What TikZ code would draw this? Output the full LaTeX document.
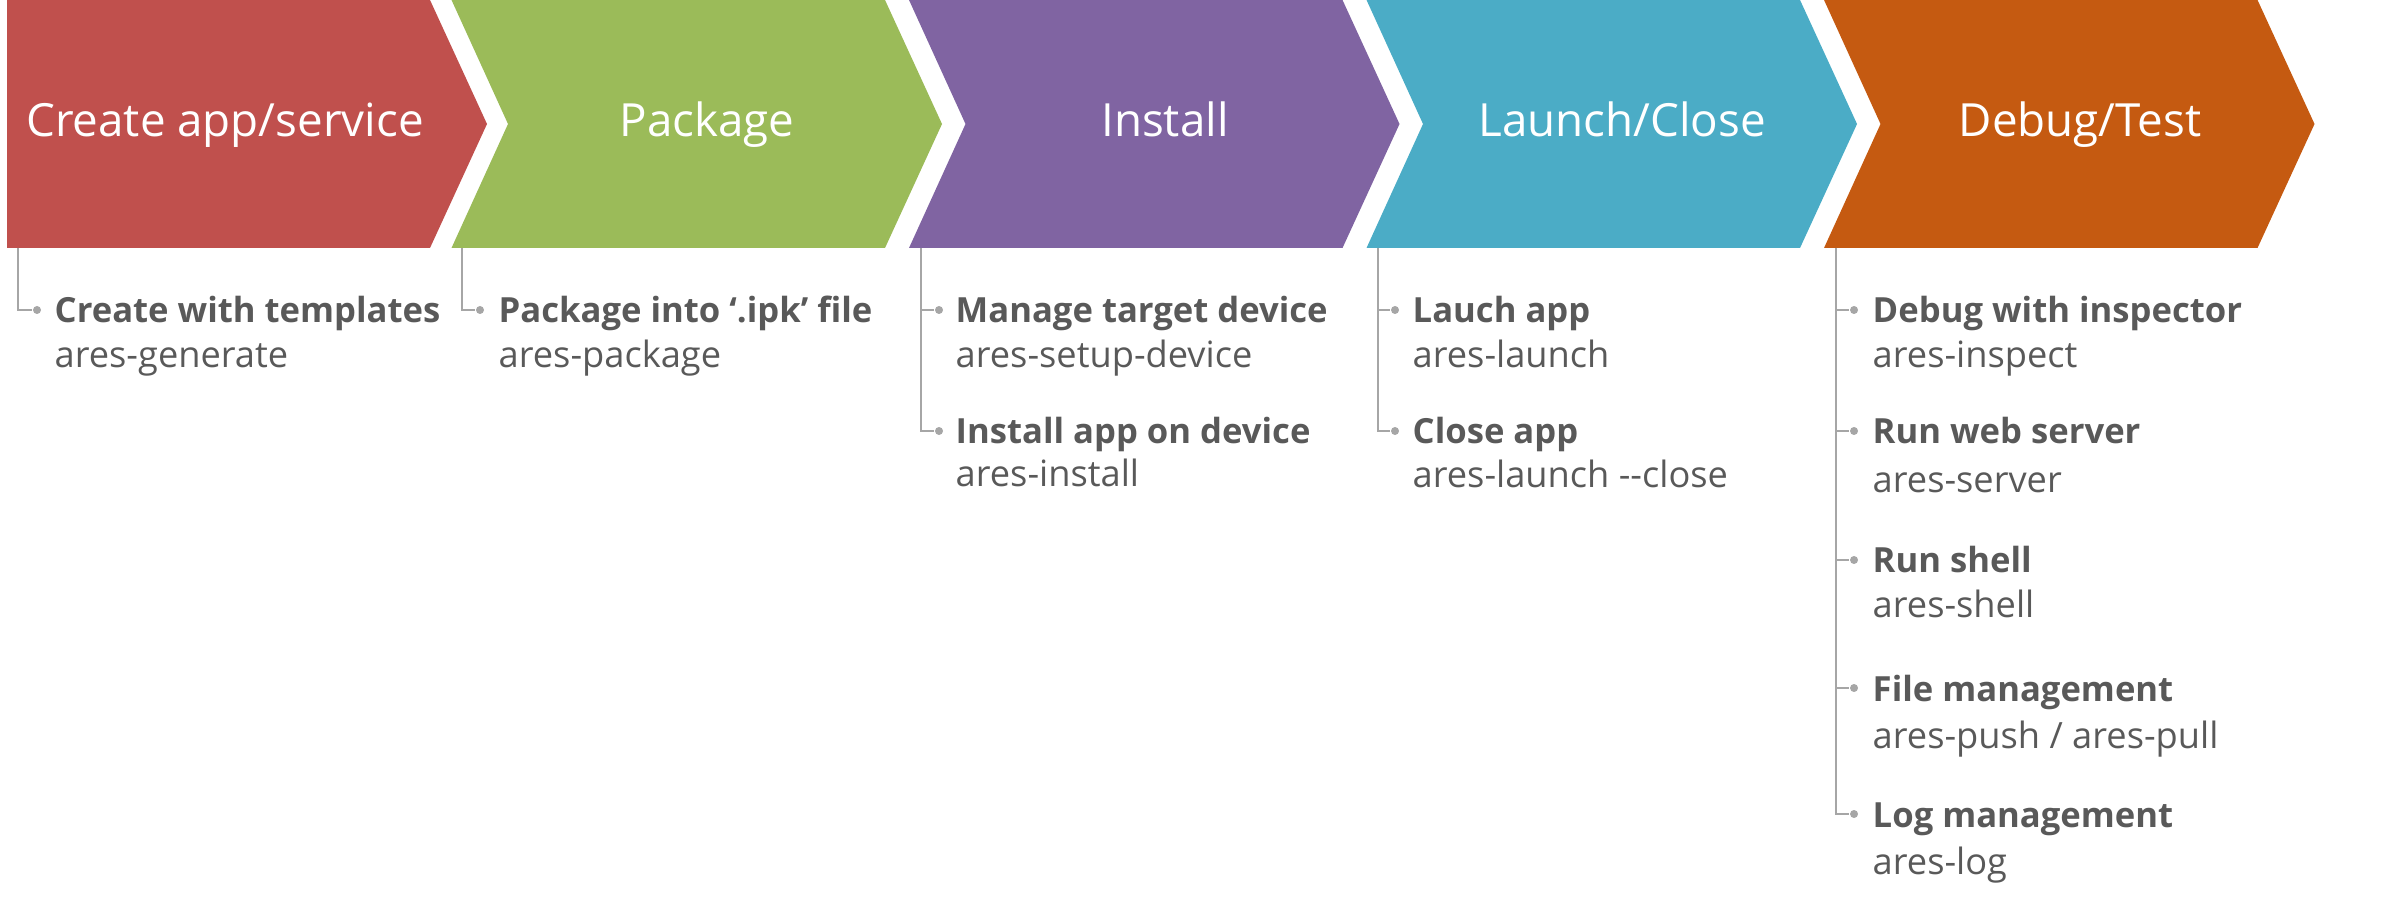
\documentclass[tikz,border=0pt]{standalone}
\usepackage{fontspec}
\setmainfont{Open Sans}
\usetikzlibrary{positioning, calc}

\definecolor{chevred}{HTML}{C0504D}
\definecolor{chevgreen}{HTML}{9BBB59}
\definecolor{chevpurple}{HTML}{8064A2}
\definecolor{chevcyan}{HTML}{4BACC6}
\definecolor{chevorange}{HTML}{C55A11}
\definecolor{itemgray}{HTML}{595959}
\definecolor{treegray}{HTML}{A6A6A6}

\begin{document}
\begin{tikzpicture}[x=0.01cm, y=-0.01cm,
  title/.style={anchor=base, inner sep=0pt, text=white,
                font=\fontsize{13}{15}\selectfont},
  item/.style={anchor=base west, inner sep=0pt, text=itemgray,
               font=\fontsize{9.85}{12}\selectfont\bfseries},
  cmd/.style={anchor=base west, inner sep=0pt, text=itemgray,
              font=\fontsize{10.3}{12}\selectfont},
  bullet/.style={circle, fill=treegray, inner sep=0pt, minimum size=0.08cm},
  tree/.style={draw=treegray, line width=0.4pt}]
  \useasboundingbox (0,0) rectangle (2404,907);

  % chevrons
  \fill[chevred] (7,0) -- (430,0) -- (487,124) -- (430,248) -- (7,248) -- cycle;
  \foreach \i/\col in {0/chevgreen, 1/chevpurple, 2/chevcyan, 3/chevorange} {
    \pgfmathsetmacro{\L}{451.5 + \i*457.5}
    \fill[\col] (\L,0) -- ({\L+433.5},0) -- ({\L+490.5},124)
      -- ({\L+433.5},248) -- (\L,248) -- ({\L+56.5},124) -- cycle;
  }

  \node[title] (t1) at (225,137) {Create app/service};
  \node[title] (t2) at (707,137) {Package};
  \node[title] (t3) at (1165,137) {Install};
  \node[title] (t4) at (1622,137) {Launch/Close};
  \node[title] (t5) at (2080,137) {Debug/Test};

  % trunks below the chevrons
  \coordinate (a1) at (18,248);
  \coordinate (a2) at (462,248);
  \coordinate (a3) at (921,248);
  \coordinate (a4) at (1378,248);
  \coordinate (a5) at (1836,248);

  % create
  \node[bullet] (b11) at (37,310) {};
  \node[item] (i11) at (54,323) {Create with templates};
  \node[cmd] (c11) at (54,368) {ares-generate};

  % package
  \node[bullet] (b21) at (480,310) {};
  \node[item] (i21) at (498,323) {Package into ‘.ipk’ file};
  \node[cmd] (c21) at (498,368) {ares-package};

  % install
  \node[bullet] (b31) at (939,310) {};
  \node[item] (i31) at (955,323) {Manage target device};
  \node[cmd] (c31) at (955,368) {ares-setup-device};
  \node[bullet] (b32) at (939,431) {};
  \node[item] (i32) at (955,444) {Install app on device};
  \node[cmd] (c32) at (955,487) {ares-install};

  % launch/close
  \node[bullet] (b41) at (1395,310) {};
  \node[item] (i41) at (1412,323) {Lauch app};
  \node[cmd] (c41) at (1412,368) {ares-launch};
  \node[bullet] (b42) at (1395,431) {};
  \node[item] (i42) at (1412,444) {Close app};
  \node[cmd] (c42) at (1412,488) {ares-launch -{}-close};

  % debug/test
  \node[bullet] (b51) at (1854,310) {};
  \node[item] (i51) at (1872,323) {Debug with inspector};
  \node[cmd] (c51) at (1872,368) {ares-inspect};
  \node[bullet] (b52) at (1854,431) {};
  \node[item] (i52) at (1872,444) {Run web server};
  \node[cmd] (c52) at (1872,492) {ares-server};
  \node[bullet] (b53) at (1854,560) {};
  \node[item] (i53) at (1872,573) {Run shell};
  \node[cmd] (c53) at (1872,617) {ares-shell};
  \node[bullet] (b54) at (1854,688) {};
  \node[item] (i54) at (1872,701) {File management};
  \node[cmd] (c54) at (1872,748) {ares-push / ares-pull};
  \node[bullet] (b55) at (1854,814) {};
  \node[item] (i55) at (1872,827) {Log management};
  \node[cmd] (c55) at (1872,874) {ares-log};

  \draw[tree] (a1) |- (b11);
  \draw[tree] (a2) |- (b21);
  \draw[tree] (a3) |- (b31);
  \draw[tree] (a3) |- (b32);
  \draw[tree] (a4) |- (b41);
  \draw[tree] (a4) |- (b42);
  \foreach \k in {1,...,5}
    \draw[tree] (a5) |- (b5\k);
\end{tikzpicture}
\end{document}
